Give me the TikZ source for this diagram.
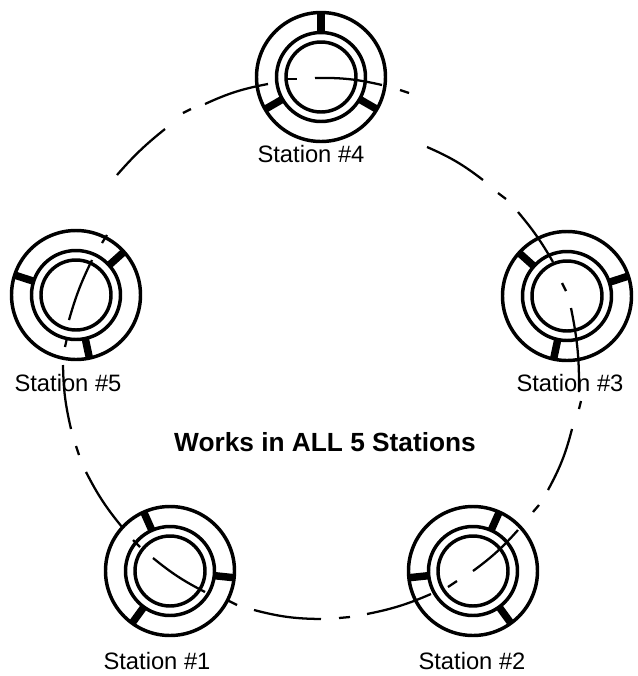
\documentclass[tikz,border=0pt]{standalone}
\usepackage{fontspec}
\setmainfont{Liberation Sans}
\usetikzlibrary{positioning,calc}
\tikzset{
   outerring/.style={circle,draw,line width=2.6pt,inner sep=0pt,outer sep=0pt,minimum size=96.75pt},
   midring/.style={circle,draw,line width=2.6pt,inner sep=0pt,outer sep=0pt,minimum size=66.75pt},
   innerring/.style={circle,draw,line width=2.6pt,inner sep=0pt,outer sep=0pt,minimum size=52.5pt},
   spoke/.style={line width=5.6pt},
   track/.style={line width=1.7pt},
   stationlabel/.style={font=\fontsize{17.8}{20}\selectfont,inner sep=0pt},
   titlelabel/.style={font=\fontsize{19.7}{22}\selectfont\bfseries,inner sep=0pt}
}
\begin{document}
\begin{tikzpicture}[x=0.75pt,y=-0.75pt]
   \useasboundingbox (0,0) rectangle (638,676);

   % stations: number, centre, spoke angles, label position
   \foreach \n/\x/\y/\aa/\ab/\ac/\lx/\ly in {
      4/321/77/90/210/330/311/154,
      3/567/296/18/138/258/570/383,
      2/473/571/-54/66/186/472/661,
      1/170/571/-126/-6/114/157/661,
      5/76/295/162/282/42/68/383}{
      \node[outerring] (st\n) at (\x,\y) {};
      \node[midring]   (mid\n) at (st\n) {};
      \node[innerring] (hub\n) at (st\n) {};
      \foreach \a in {\aa,\ab,\ac}
         \draw[spoke] (mid\n.\a) -- (st\n.\a);
      \node[stationlabel] (lab\n) at (\lx,\ly) {Station \#\n};
   }

   % the broken track, clockwise from station 4
   \foreach \ax/\ay/\bx/\by/\b in {
      205/104/268/84/7, 288/79/297/79/0, 315/78/382/85/7, 400/90/409/93/0,
      427/147/483/180/7, 498/193/506/199/0, 518/212/553/262/5, 562/283/566/291/0,
      571/308/579/392/6, 581/401/579/409/0, 572/429/548/490/7, 539/505/533/512/0,
      518/530/473/571/6, 457/581/448/587/0, 431/594/367/614/6, 350/617/339/618/0,
      321/619/254/610/7, 237/605/227/600/0, 205/592/153/558/6, 140/547/133/540/0,
      122/527/86/472/6, 79/455/76/446/0, 71/429/63/365/6, 65/347/67/338/0,
      69/320/92/260/5, 102/243/107/235/0, 117/175/165/129/5, 183/113/191/109/0}{
      \coordinate (p) at (\ax,\ay);
      \coordinate (q) at (\bx,\by);
      \draw[track] (p) to[bend left=\b] (q);
   }

   \node[titlelabel] (title) at (325,442) {Works in ALL 5 Stations};
\end{tikzpicture}
\end{document}
